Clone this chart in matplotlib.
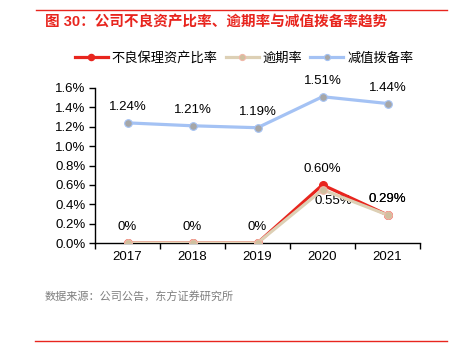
import matplotlib.pyplot as plt
import numpy as np

plt.rcParams['font.family'] = ['Liberation Sans', 'Noto Sans CJK SC']

years = ["2017", "2018", "2019", "2020", "2021"]
npl = [0.0, 0.0, 0.0, 0.60, 0.29]       # 不良保理资产比率
overdue = [0.0, 0.0, 0.0, 0.55, 0.29]   # 逾期率
provision = [1.24, 1.21, 1.19, 1.51, 1.44]  # 减值拨备率

npl_labels = ["0%", "0%", "0%", "0.60%", "0.29%"]
overdue_labels = ["", "", "", "0.55%", "0.29%"]
prov_labels = ["1.24%", "1.21%", "1.19%", "1.51%", "1.44%"]

W, H = 455, 354
fig = plt.figure(figsize=(W / 100, H / 100), dpi=100)

# axes box in pixels: left 95, right 420, top 88, bottom 243
ax = fig.add_axes([95 / W, 1 - 243 / H, 325 / W, (243 - 88) / H])
x = np.arange(len(years))

ax.plot(x, provision, color="#A4C2F4", lw=2.3, marker="o", ms=5.5,
        mfc="#A6A6A6", mec="#A4C2F4", mew=0.8, label="减值拨备率", zorder=3)
ax.plot(x, npl, color="#E8251E", lw=2.3, marker="o", ms=5.5,
        mfc="#E8251E", mec="#E8251E", label="不良保理资产比率", zorder=4)
ax.plot(x, overdue, color="#DDD0B5", lw=2.3, marker="o", ms=5.5,
        mfc="#CFC09F", mec="#F0B8A8", mew=0.8, label="逾期率", zorder=5)

for i, v in enumerate(provision):
    ax.annotate(prov_labels[i], (x[i], v), xytext=(0, 7), textcoords="offset points",
                ha="center", va="bottom", fontsize=9.5)
for i, v in enumerate(npl):
    ax.annotate(npl_labels[i], (x[i], v), xytext=(0, 7), textcoords="offset points",
                ha="center", va="bottom", fontsize=9.5)
for i, v in enumerate(overdue):
    if overdue_labels[i] and i == 3:
        ax.annotate(overdue_labels[i], (x[i], v), xytext=(8, -4), textcoords="offset points",
                    ha="center", va="top", fontsize=9.5)
    elif overdue_labels[i]:
        ax.annotate(overdue_labels[i], (x[i], v), xytext=(0, 7), textcoords="offset points",
                    ha="center", va="bottom", fontsize=9.5)

ax.set_xlim(-0.5, len(years) - 0.5)
ax.set_ylim(0, 1.6)
ax.set_yticks(np.arange(0, 1.61, 0.2))
ax.set_yticklabels([f"{t:.1f}%" for t in np.arange(0, 1.61, 0.2)], fontsize=9.5)
ax.set_xticks(x)
ax.set_xticklabels(years, fontsize=9.5)
ax.set_xticks(np.arange(-0.5, len(years), 1), minor=True)
ax.tick_params(axis="x", which="major", length=0, pad=6)
ax.tick_params(axis="x", which="minor", length=4, width=1, direction="out")
ax.tick_params(axis="y", length=4, width=1, direction="out", pad=3)
for s in ["top", "right"]:
    ax.spines[s].set_visible(False)
for s in ["left", "bottom"]:
    ax.spines[s].set_linewidth(1)
    ax.spines[s].set_color("black")

handles, labels = ax.get_legend_handles_labels()
order = [1, 2, 0]
fig.legend([handles[i] for i in order], [labels[i] for i in order],
           loc="center", bbox_to_anchor=(244 / W, 1 - 58 / H), ncol=3, frameon=False,
           handlelength=2.5, columnspacing=0.6, handletextpad=0.3, markerscale=0.8,
           prop={"family": ["Noto Sans CJK SC"], "size": 9.5})

# title, decorative rules, source
fig.add_artist(plt.Line2D([36 / W, 447 / W], [1 - 10 / H, 1 - 10 / H], color="#E8251E", lw=1))
fig.add_artist(plt.Line2D([35 / W, 447 / W], [1 - 341 / H, 1 - 341 / H], color="#E8251E", lw=1))
fig.text(45 / W, 1 - 22 / H, "图 30：公司不良资产比率、逾期率与减值拨备率趋势", color="#E8251E",
         fontsize=10.5, fontweight="bold", va="center", ha="left")
fig.text(45 / W, 1 - 297 / H, "数据来源：公司公告，东方证券研究所", color="#7F7F7F",
         fontsize=8, va="center", ha="left", family=["Noto Sans CJK SC"])

fig.savefig("out.png", dpi=100)
